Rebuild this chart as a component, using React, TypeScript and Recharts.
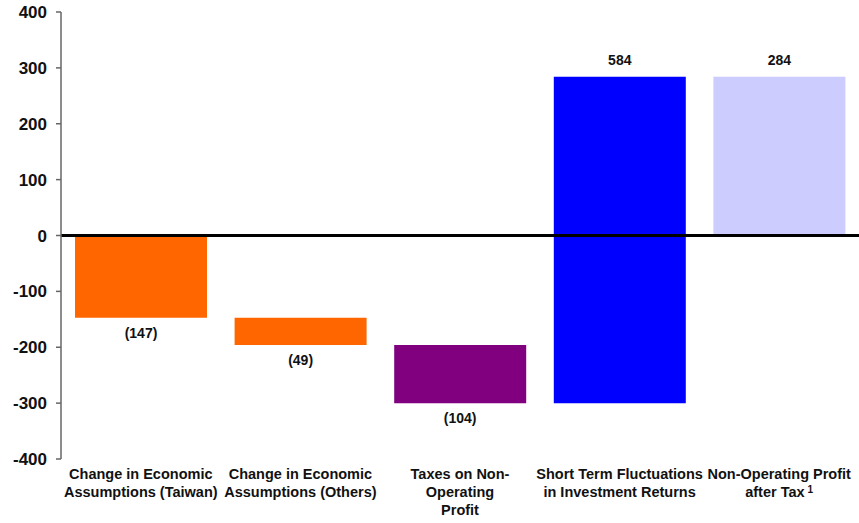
import React from 'react';
import {
  BarChart,
  Bar,
  XAxis,
  YAxis,
  Cell,
  LabelList,
  ReferenceLine
} from 'recharts';

const categories: string[][] = [
  ['Change in Economic', 'Assumptions (Taiwan)'],
  ['Change in Economic', 'Assumptions (Others)'],
  ['Taxes on Non-', 'Operating', 'Profit'],
  ['Short Term Fluctuations', 'in Investment Returns'],
  ['Non-Operating Profit', 'after Tax'],
];

// change per step; the last one is the total
const deltas = [-147, -49, -104, 584, 284];
const isTotal = [false, false, false, false, true];
const colors = ['#FF6600', '#FF6600', '#800080', '#0000FF', '#CCCCFF'];
const yTicks = [-400, -300, -200, -100, 0, 100, 200, 300, 400];

const FONT = "Arial, 'Liberation Sans', sans-serif";

let running = 0;
const data = deltas.map((d, i) => {
  const start = isTotal[i] ? 0 : running;
  const end = isTotal[i] ? d : running + d;
  if (!isTotal[i]) running = end;
  return {
    name: String(i),
    range: [Math.min(start, end), Math.max(start, end)],
    delta: d,
  };
});

const fmt = (v: number) => (v < 0 ? `(${Math.abs(v)})` : `${v}`);

const CategoryTick = (props: any) => {
  const { x, y, payload } = props;
  const idx = Number(payload.value);
  const lines = categories[idx] || [];
  return (
    <text
      x={x}
      y={y}
      textAnchor="middle"
      fontFamily={FONT}
      fontWeight="bold"
      fontSize={14.5}
      fill="#111"
    >
      {lines.map((line, i) => (
        <tspan key={i} x={x} dy={i === 0 ? 12 : 18}>
          {line}
          {idx === 4 && i === lines.length - 1 ? (
            <tspan fontSize={10} dy={-4} dx={3}>1</tspan>
          ) : null}
        </tspan>
      ))}
    </text>
  );
};

const ValueTick = (props: any) => {
  const { x, y, payload } = props;
  return (
    <text
      x={x}
      y={y}
      dy={6}
      textAnchor="end"
      fontFamily={FONT}
      fontWeight="bold"
      fontSize={17}
      fill="#111"
    >
      {payload.value}
    </text>
  );
};

const ValueLabel = (props: any) => {
  const { x, y, width, height, index } = props;
  const d = deltas[index];
  const top = Math.min(y, y + height);
  const bottom = Math.max(y, y + height);
  const ly = d < 0 ? bottom + 20 : top - 12;
  return (
    <text
      x={x + width / 2}
      y={ly}
      textAnchor="middle"
      fontFamily={FONT}
      fontWeight="bold"
      fontSize={14}
      fill="#111"
    >
      {fmt(d)}
    </text>
  );
};

export default function App() {
  return (
    <div style={{ position: 'absolute', left: 0, top: 0, background: '#fff' }}>
      <BarChart
        width={859}
        height={523}
        data={data}
        margin={{ top: 12, right: 0, bottom: 0, left: 0 }}
        barSize={132}
      >
        <XAxis
          dataKey="name"
          axisLine={false}
          tickLine={false}
          height={64}
          interval={0}
          tick={<CategoryTick />}
        />
        <YAxis
          type="number"
          domain={[-400, 400]}
          ticks={yTicks}
          width={61}
          interval={0}
          axisLine={{ stroke: '#666', strokeWidth: 1.5 }}
          tickLine={{ stroke: '#666', strokeWidth: 1.5 }}
          tickSize={5}
          tickMargin={9}
          tick={<ValueTick />}
        />
        <Bar dataKey="range" isAnimationActive={false}>
          {data.map((_, i) => (
            <Cell key={`cell-${i}`} fill={colors[i]} />
          ))}
          <LabelList dataKey="delta" content={<ValueLabel />} />
        </Bar>
        <ReferenceLine y={0} stroke="#000" strokeWidth={3} />
      </BarChart>
    </div>
  );
}
